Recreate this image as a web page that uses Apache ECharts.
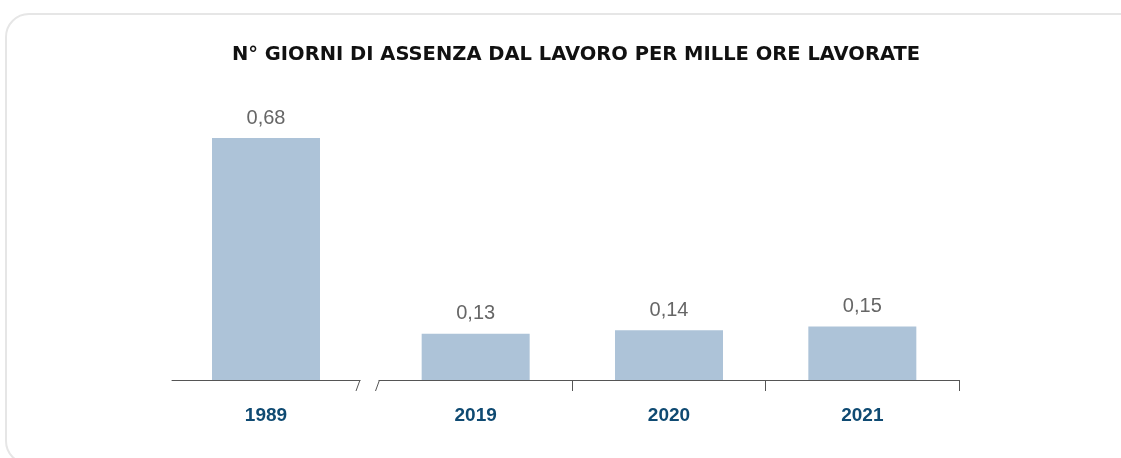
<!DOCTYPE html>
<html>
<head>
<meta charset="utf-8">
<script src="https://cdn.jsdelivr.net/npm/echarts@6/dist/echarts.min.js"></script>
<style>
  html, body { margin: 0; padding: 0; background: #fff; overflow: hidden; }
  .card {
    position: absolute; left: 5px; top: 13px; width: 1140px; height: 452px;
    border: 2px solid #e6e6e6; border-radius: 24px; box-sizing: border-box;
  }
  #chart { position: absolute; left: 0; top: 0; width: 1121px; height: 458px; }
</style>
</head>
<body>
<div class="card"></div>
<div id="chart"></div>
<script>
const titleText = 'N° GIORNI DI ASSENZA DAL LAVORO PER MILLE ORE LAVORATE'
const oldYears = ['1989']
const oldValues = [0.68]
const recentYears = ['2019', '2020', '2021']
const recentValues = [0.13, 0.14, 0.15]

const chart = echarts.init(document.getElementById('chart'))

const barColor = '#adc3d8'
const axisColor = '#555'
const fmt = p => String(p.value).replace('.', ',')

const labelStyle = {
  show: true,
  position: 'top',
  distance: 10,
  color: '#666',
  fontFamily: 'Liberation Sans, Arial, sans-serif',
  fontSize: 20,
  formatter: fmt
}

const xAxisBase = {
  type: 'category',
  axisLine: { lineStyle: { color: axisColor, width: 1 } },
  axisLabel: {
    color: '#0f4a72',
    fontWeight: 'bold',
    fontFamily: 'Liberation Sans, Arial, sans-serif',
    fontSize: 19,
    margin: 26
  }
}

const yAxisBase = { type: 'value', min: 0, max: 0.68, show: false }

const option = {
  animation: false,
  title: {
    text: titleText,
    left: 227,
    top: 40,
    textStyle: { fontFamily: 'DejaVu Sans', fontWeight: 'bold', fontSize: 19.5, color: '#111' }
  },
  grid: [
    { left: 172, width: 188, top: 138, bottom: 78 },
    { left: 379, width: 580, top: 138, bottom: 78 }
  ],
  xAxis: [
    Object.assign({}, xAxisBase, { gridIndex: 0, data: oldYears, axisTick: { show: false } }),
    Object.assign({}, xAxisBase, {
      gridIndex: 1,
      data: recentYears,
      axisTick: { show: true, length: 11, lineStyle: { color: axisColor }, interval: 0 }
    })
  ],
  yAxis: [
    Object.assign({ gridIndex: 0 }, yAxisBase),
    Object.assign({ gridIndex: 1 }, yAxisBase)
  ],
  series: [
    {
      type: 'bar', xAxisIndex: 0, yAxisIndex: 0, data: oldValues,
      barWidth: 108, itemStyle: { color: barColor }, label: labelStyle
    },
    {
      type: 'bar', xAxisIndex: 1, yAxisIndex: 1, data: recentValues,
      barWidth: 108, itemStyle: { color: barColor }, label: labelStyle
    }
  ],
  // slanted break marks between the two axis segments
  graphic: [
    { type: 'line', shape: { x1: 360, y1: 380, x2: 356, y2: 391 }, style: { stroke: axisColor, lineWidth: 1 } },
    { type: 'rect', shape: { x: 378, y: 381, width: 3, height: 12 }, style: { fill: '#fff' }, z: 100 },
    { type: 'line', shape: { x1: 379.5, y1: 380, x2: 375.5, y2: 391 }, style: { stroke: axisColor, lineWidth: 1 }, z: 101 }
  ]
}

chart.setOption(option)
</script>
</body>
</html>
